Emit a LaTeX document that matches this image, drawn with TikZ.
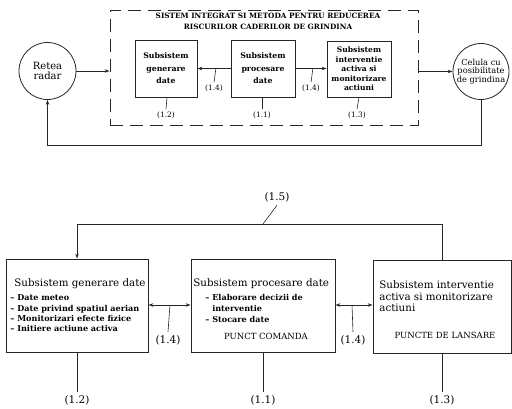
\documentclass[tikz,border=0pt]{standalone}
\usepackage{fontspec}
\setmainfont{DejaVu Serif}
\usetikzlibrary{arrows.meta}
\begin{document}
\begin{tikzpicture}[x=1pt,y=-1pt,
  line width=0.8pt, draw=black!85,
  tip/.tip={Stealth[length=5pt,width=3.5pt]},
  arr/.style={-tip},
  darr/.style={tip-tip},
  sbox/.style={draw, rectangle, inner sep=1pt, align=center, font=\fontsize{7.8}{12.5}\selectfont\bfseries},
  sboxi/.style={sbox, font=\fontsize{7.6}{9.5}\selectfont\bfseries},
  bbox/.style={draw, rectangle, inner sep=0pt},
  circ/.style={draw, circle, inner sep=0pt, align=center},
  lbls/.style={font=\fontsize{7.4}{8}\selectfont, inner sep=2pt},
  lblb/.style={font=\fontsize{10.5}{12}\selectfont, inner sep=3pt},
  hdr/.style={font=\fontsize{10.3}{12}\selectfont, inner sep=0pt, anchor=base west},
  itm/.style={font=\fontsize{8.1}{10}\selectfont\bfseries, inner sep=0pt, anchor=base west},
  caps/.style={font=\fontsize{8.5}{10}\selectfont, inner sep=0pt, anchor=base},
  ttl/.style={font=\fontsize{7.3}{11}\selectfont\bfseries, align=center, inner sep=0pt}
]
\useasboundingbox (0,0) rectangle (512,409);

% ---------- upper diagram ----------
\node[draw, rectangle, dash pattern=on 13pt off 7pt, minimum width=308pt, minimum height=115pt] (frame) at (264,67.5) {};
\node[ttl] (title) at (268,21.5) {SISTEM INTEGRAT SI METODA PENTRU REDUCEREA\\RISCURILOR CADERILOR DE GRINDINA};

\node[sbox, minimum width=62pt, minimum height=57pt] (gen) at (166,68.5) {Subsistem\\generare\\date};
\node[sbox, minimum width=64pt, minimum height=57pt] (proc) at (263,68.5) {Subsistem\\procesare\\date};
\node[sboxi, minimum width=64pt, minimum height=56pt] (intv) at (359,69) {Subsistem\\interventie\\activa si\\monitorizare\\actiuni};

\node[circ, minimum size=57pt, font=\fontsize{10}{10}\selectfont] (radar) at (47.5,71) {Retea\\radar};
\node[circ, minimum size=56pt, font=\fontsize{8.3}{8.5}\selectfont] (cel) at (481,71.5) {Celula cu\\posibilitate\\de grindina};

\draw[arr] (radar.east) -- (radar.east -| frame.west);
\draw[arr] (cel.west -| frame.east) -- (cel.west);
\draw[arr] (proc.west) -- (proc.west -| gen.east);
\draw[arr] (proc.east) -- (proc.east -| intv.west);
\coordinate (fb) at (0,145);
\draw[arr] (cel.south) -- (cel.south |- fb) -| (radar.south);

\node[lbls] (t14a) at (214,88) {(1.4)};
\node[lbls] (t14b) at (311,88) {(1.4)};
\node[lbls] (t12) at (166,115) {(1.2)};
\node[lbls] (t11) at (262,115) {(1.1)};
\node[lbls] (t13) at (357,115) {(1.3)};
\coordinate (c14a) at (216,68);
\coordinate (c14b) at (313,68);
\draw[line width=0.6pt] (c14a) -- (t14a.north);
\draw[line width=0.6pt] (c14b) -- (t14b.north);
\draw[line width=0.6pt] ([xshift=1pt]gen.south) -- (t12.north);
\draw[line width=0.6pt] ([xshift=-1pt]proc.south) -- (t11.north);
\draw[line width=0.6pt] (intv.south) -- (t13.north);

% ---------- lower diagram ----------
\node[bbox, minimum width=142pt, minimum height=93pt] (gen2) at (77,305.5) {};
\node[bbox, minimum width=144pt, minimum height=93pt] (proc2) at (263,305.5) {};
\node[bbox, minimum width=138pt, minimum height=93pt] (intv2) at (442,306.5) {};

\node[hdr] (g2h) at (14,287) {Subsistem generare date};
\node[itm] (g2a) at (10,301) {– Date meteo};
\node[itm] (g2b) at (10,311) {– Date privind spatiul aerian};
\node[itm] (g2c) at (10,321) {– Monitorizari efecte fizice};
\node[itm] (g2d) at (10,331) {– Initiere actiune activa};

\node[hdr] (p2h) at (193,287) {Subsistem procesare date};
\node[itm] (p2a) at (205,300) {– Elaborare decizii de};
\node[itm] (p2b) at (205,311) {\phantom{– }interventie};
\node[itm] (p2c) at (205,323) {– Stocare date};
\node[caps] (p2d) at (266,339) {PUNCT COMANDA};

\node[hdr] (i2h) at (379,288) {Subsistem interventie};
\node[hdr] (i2a) at (379,300) {activa si monitorizare};
\node[hdr] (i2b) at (379,312) {actiuni};
\node[caps] (i2c) at (445,338) {PUNCTE DE LANSARE};

\coordinate (top) at (0,224);
\draw[arr] (intv2.north) -- (intv2.north |- top) -| (gen2.north);
\draw[darr] (gen2.east |- 0,305) -- (proc2.west |- 0,305);
\draw[darr] (proc2.east |- 0,305) -- (intv2.west |- 0,305);

\node[lblb] (b15) at (277,197) {(1.5)};
\node[lblb] (b14a) at (168,340) {(1.4)};
\node[lblb] (b14b) at (353,340) {(1.4)};
\node[lblb] (b12) at (77,400) {(1.2)};
\node[lblb] (b11) at (263,400) {(1.1)};
\node[lblb] (b13) at (442,400) {(1.3)};
\coordinate (c15) at (263,224);
\coordinate (c14c) at (170,305);
\coordinate (c14d) at (352,305);
\draw[line width=0.6pt] (c15) -- (b15.south);
\draw[line width=0.6pt] (c14c) -- (b14a.north);
\draw[line width=0.6pt] (c14d) -- (b14b.north);
\draw (gen2.south) -- (b12.north);
\draw (proc2.south) -- (b11.north);
\draw (intv2.south) -- (b13.north);
\end{tikzpicture}
\end{document}
